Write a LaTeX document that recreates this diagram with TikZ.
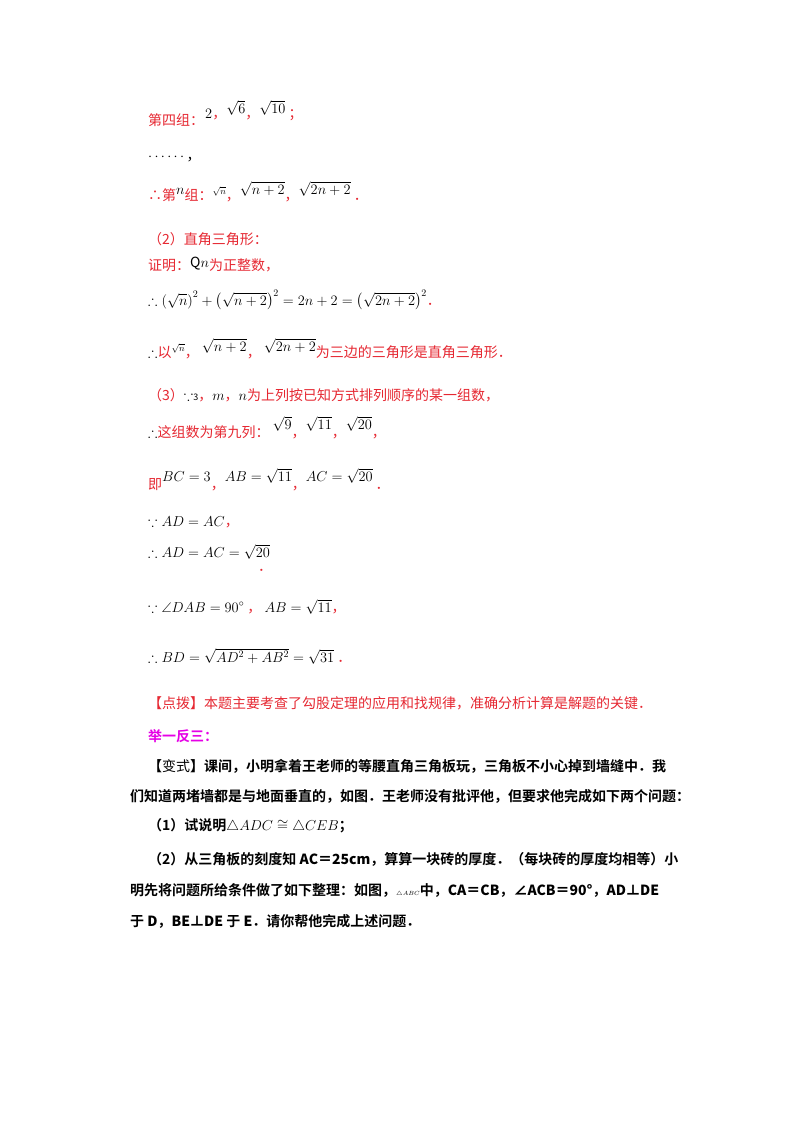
\documentclass[tikz,border=0pt]{standalone}
\usepackage{fontspec}
\usepackage{amsmath,amssymb}
\setmainfont{Liberation Serif}
\newfontfamily\cjk{Noto Sans CJK SC}
\newfontfamily\cjkb{Noto Sans CJK SC Bold}
\definecolor{rd}{RGB}{230,40,50}
\definecolor{mg}{RGB}{230,0,230}
\tikzset{t/.style={anchor=base west,inner sep=0pt,font=\fontsize{14}{16}\selectfont\cjk}}
\begin{document}
\begin{tikzpicture}[x=1pt,y=-1pt]
\useasboundingbox[fill=white] (0,0) rectangle (800,1132);
\node[t,rd] (l1) at (148,125) {第四组：};
\node[t] (l1m) at (205,118) {$2${\color{rd}，}\raisebox{5pt}{$\sqrt{6}$}{\color{rd}，}\raisebox{5pt}{$\sqrt{10}$}\ {\color{rd}；}};
\node[t] (l2) at (148,160) {$\cdots\cdots$，};
\node[t,rd] (l3) at (148,200) {∴第\raisebox{6pt}{\color{black}$n$}组：\color{black}\raisebox{6pt}{\small$\sqrt{n}$}{\color{rd}，}\raisebox{6pt}{$\sqrt{n+2}$}{\color{rd}，}\raisebox{6pt}{$\sqrt{2n+2}$}\ {\color{rd}．}};
\node[t,rd] (l4) at (148,244) {（2）直角三角形：};
\node[t,rd] (l5) at (148,270) {证明：\raisebox{3pt}{\color{black}Q$n$}为正整数，};
\node[t] (l6) at (148,305) {$\therefore\left(\sqrt{n}\right)^2+\left(\sqrt{n+2}\right)^2=2n+2=\left(\sqrt{2n+2}\right)^2${\color{rd}．}};
\node[t] (l7) at (148,357) {$\therefore${\color{rd}以}\raisebox{6pt}{\small$\sqrt{n}$}{\color{rd}，}\ \raisebox{6pt}{$\sqrt{n+2}$}{\color{rd}，}\ \raisebox{6pt}{$\sqrt{2n+2}$}{\color{rd}为三边的三角形是直角三角形．}};
\node[t,rd] (l8) at (148,400) {（3）{\color{black}$\because$\small 3}，{\color{black}$m$}，{\color{black}$n$}为上列按已知方式排列顺序的某一组数，};
\node[t] (l9) at (148,437) {$\therefore${\color{rd}这组数为第九列：}\ \raisebox{8pt}{$\sqrt{9}$}{\color{rd}，}\raisebox{8pt}{$\sqrt{11}$}{\color{rd}，}\raisebox{8pt}{$\sqrt{20}$}{\color{rd}，}};
\node[t] (l10) at (148,489) {{\color{rd}即}\raisebox{8pt}{$BC=3$}{\color{rd}，}\raisebox{8pt}{$AB=\sqrt{11}$}{\color{rd}，}\raisebox{8pt}{$AC=\sqrt{20}$}\ {\color{rd}．}};
\node[t] (l11) at (148,526) {$\because AD=AC${\color{rd}，}};
\node[t] (l12) at (148,557) {$\therefore AD=AC=\sqrt{20}$};
\node[t,rd] (l12d) at (258,571) {．};
\node[t] (l13) at (148,612) {$\because \angle DAB=90^\circ$\ {\color{rd}，}\ $AB=\sqrt{11}${\color{rd}，}};
\node[t] (l14) at (148,662) {$\therefore BD=\sqrt{AD^2+AB^2}=\sqrt{31}$\ {\color{rd}．}};
\node[t,rd] (l15) at (148,708) {【点拨】本题主要考查了勾股定理的应用和找规律，准确分析计算是解题的关键．};
\node[t,mg,font=\fontsize{14}{16}\selectfont\cjkb] (l16) at (148,741) {举一反三：};
\node[t,font=\fontsize{14}{16}\selectfont\cjkb] (l17) at (148,771) {【{\cjk 变式}】课间，小明拿着王老师的等腰直角三角板玩，三角板不小心掉到墙缝中．我};
\node[t,font=\fontsize{14}{16}\selectfont\cjkb] (l18) at (130,801) {们知道两堵墙都是与地面垂直的，如图．王老师没有批评他，但要求他完成如下两个问题：};
\node[t,font=\fontsize{14}{16}\selectfont\cjkb] (l19) at (148,830) {（1）试说明{\cjk$\triangle ADC\cong\triangle CEB$}；};
\node[t,font=\fontsize{14}{16}\selectfont\cjkb] (l20) at (148,864) {（2）从三角板的刻度知\textbf{ AC＝25cm}，算算一块砖的厚度．（每块砖的厚度均相等）小};
\node[t,font=\fontsize{14}{16}\selectfont\cjkb] (l21) at (130,895) {明先将问题所给条件做了如下整理：如图，{\cjk\small$\scriptstyle\triangle ABC$}中，\textbf{CA＝CB}，\textbf{∠ACB＝90°}，\textbf{AD⊥DE}};
\node[t,font=\fontsize{14}{16}\selectfont\cjkb] (l22) at (130,926) {于\textbf{ D}，\textbf{BE⊥DE }于\textbf{ E}．请你帮他完成上述问题．};
\end{tikzpicture}
\end{document}
